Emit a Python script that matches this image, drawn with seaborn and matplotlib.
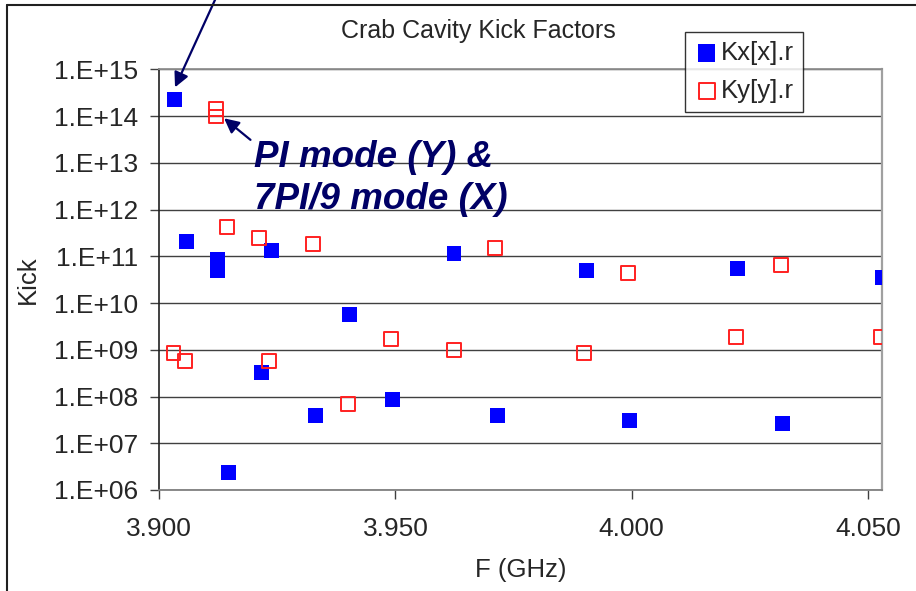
import numpy as np
import pandas as pd
import matplotlib
matplotlib.use("Agg")
import matplotlib.pyplot as plt
from matplotlib.lines import Line2D
import seaborn as sns

# ---- data ----
fx_ghz = [3.9033, 3.9058, 3.9123, 3.9123, 3.9237, 3.9624, 3.9904, 4.0224, 4.0530,
          3.9402, 3.9217, 3.9330, 3.9493, 3.9146, 3.9716, 3.9995, 4.0319]
kx = [2.3e14, 2.1e11, 8.6e10, 4.9e10, 1.34e11, 1.17e11, 5.0e10, 5.5e10, 3.55e10,
      5.7e9, 3.3e8, 3.95e7, 8.7e7, 2.4e6, 3.95e7, 3.1e7, 2.67e7]
fy_ghz = [3.9120, 3.9120, 3.9144, 3.9212, 3.9326, 3.9711, 3.9992, 4.0316, 3.9030,
          3.9054, 3.9233, 3.9490, 3.9400, 3.9623, 3.9900, 4.0221, 4.0528]
ky = [1.4e14, 9.8e13, 4.3e11, 2.42e11, 1.83e11, 1.48e11, 4.3e10, 6.5e10, 8.4e8,
      5.8e8, 5.8e8, 1.7e9, 6.9e7, 9.7e8, 8.4e8, 1.85e9, 1.85e9]
x_ticks = [3.900, 3.950, 4.000, 4.050]
x_tick_labels = ["3.900", "3.950", "4.000", "4.050"]
y_ticks = [1e6, 1e7, 1e8, 1e9, 1e10, 1e11, 1e12, 1e13, 1e14, 1e15]
y_tick_labels = ["1.E+06", "1.E+07", "1.E+08", "1.E+09", "1.E+10",
                 "1.E+11", "1.E+12", "1.E+13", "1.E+14", "1.E+15"]
series_names = ["Kx[x].r", "Ky[y].r"]

df_x = pd.DataFrame({"F": fx_ghz, "Kick": kx})
df_y = pd.DataFrame({"F": fy_ghz, "Kick": ky})

sns.set_style("white")
plt.rcParams["font.family"] = ["Liberation Sans", "DejaVu Sans"]

fig = plt.figure(figsize=(9.16, 5.91), dpi=100)
ax = fig.add_axes([0.1739, 0.1709, 0.789, 0.7118])

navy = "#000066"

sns.scatterplot(data=df_x, x="F", y="Kick", ax=ax, marker="s", s=115,
                color="#0000FF", edgecolor="none", linewidth=0,
                label=series_names[0], zorder=4)
sns.scatterplot(data=df_y, x="F", y="Kick", ax=ax, marker="s", s=100,
                color="#FF0000", label=series_names[1], zorder=4)
coll = ax.collections[-1]
coll.set_facecolor("none")
coll.set_edgecolor("#FF2020")
coll.set_linewidth(1.4)

ax.set_yscale("log")
ax.set_xlim(3.900, 4.053)
ax.set_ylim(1e6, 1e15)
ax.set_xticks(x_ticks)
ax.set_xticklabels(x_tick_labels)
ax.set_yticks(y_ticks)
ax.set_yticklabels(y_tick_labels)
ax.yaxis.set_minor_locator(matplotlib.ticker.NullLocator())
ax.tick_params(axis="both", which="major", labelsize=19, direction="out",
               length=6.5, width=1, color="#404040", left=True, bottom=True)
ax.tick_params(axis="y", pad=9)
ax.tick_params(axis="x", pad=13)

ax.grid(axis="y", color="#404040", linewidth=1.0)
ax.grid(axis="x", visible=False)
ax.set_axisbelow(True)

for side, col, lw in [("left", "#202020", 1.2), ("bottom", "#808080", 1.3),
                      ("top", "#909090", 1.3), ("right", "#a0a0a0", 1.6)]:
    ax.spines[side].set_visible(True)
    ax.spines[side].set_color(col)
    ax.spines[side].set_linewidth(lw)

ax.set_xlabel("F (GHz)", fontsize=18.5, labelpad=12)
ax.set_ylabel("Kick", fontsize=18.5, labelpad=10)

fig.text(478 / 916, 1 - 31 / 591, "Crab Cavity Kick Factors", fontsize=18,
         ha="center", va="center")

leg = ax.legend(loc="upper left", bbox_to_anchor=(685 / 916, 1 - 31.7 / 591),
                bbox_transform=fig.transFigure, borderaxespad=0,
                fontsize=18.5, frameon=True, fancybox=False, shadow=False,
                handletextpad=0.05, handlelength=1.0, borderpad=0.35,
                labelspacing=0.55, markerscale=1.15)
leg.get_frame().set_edgecolor("black")
leg.get_frame().set_linewidth(1.0)
leg.get_frame().set_facecolor("white")
leg.set_zorder(10)

# annotation
ax.annotate("PI mode (Y) &\n7PI/9 mode (X)", xy=(3.91372, 8.96e13),
            xytext=(3.9200, 3.04e13), textcoords="data",
            fontsize=26.5, fontweight="bold", fontstyle="italic", color=navy,
            ha="left", va="top", linespacing=1.25,
            arrowprops=dict(arrowstyle="-|>", color=navy, lw=1.6,
                            mutation_scale=22, shrinkA=0, shrinkB=0,
                            relpos=(0, 0.97)),
            annotation_clip=False, zorder=6)
ax.annotate("", xy=(3.90333, 4.12e14), xytext=(0.2397, 1.017),
            textcoords="figure fraction",
            arrowprops=dict(arrowstyle="-|>", color=navy, lw=1.6,
                            mutation_scale=22, shrinkA=0, shrinkB=0),
            annotation_clip=False, zorder=6)

# outer chart border (partial, cropped)
fig.add_artist(Line2D([7 / 916, 1.0], [1 - 5 / 591, 1 - 5 / 591],
                      transform=fig.transFigure, color="#202020", lw=1.5))
fig.add_artist(Line2D([7 / 916, 7 / 916], [0, 1 - 5 / 591],
                      transform=fig.transFigure, color="#202020", lw=1.5))

fig.savefig("out.png", dpi=100)
